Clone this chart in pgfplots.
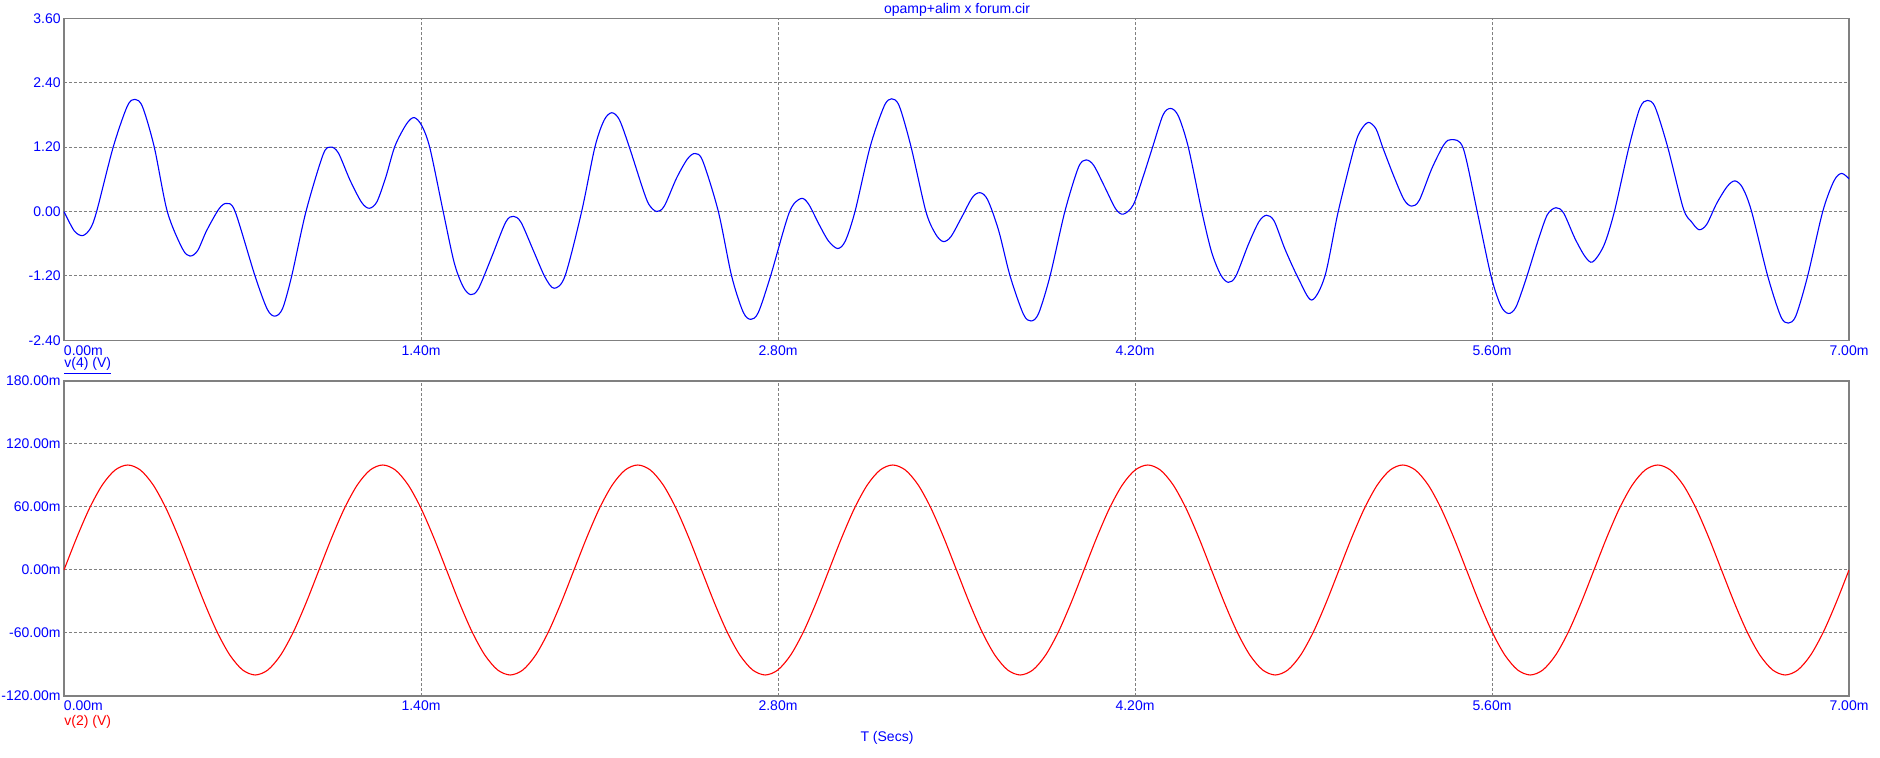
\documentclass[border=0pt]{standalone}
\usepackage{fontspec}
\setmainfont{Liberation Sans}
\usepackage{pgfplots}
\pgfplotsset{compat=1.18}
\definecolor{gridgray}{RGB}{128,128,128}
\pgfplotsset{
  panel/.style={
    scale only axis, width=892.5pt,
    xmin=0, xmax=7,
    xtick={0,1.4,2.8,4.2,5.6,7},
    xticklabels={\rlap{0.00m},1.40m,2.80m,4.20m,5.60m,7.00m},
    grid=major,
    major grid style={draw=gridgray, dash pattern=on 1.5pt off 1pt, line width=0.5pt},
    axis line style={draw=gridgray, line width=0.6pt},
    major tick length=0pt,
    tick label style={font=\fontsize{7}{8}\selectfont, text=blue},
    xticklabel style={anchor=north, inner sep=0pt, yshift=-2.35pt},
    yticklabel style={anchor=east, inner sep=0pt, xshift=-1.5pt},
  }
}
\begin{document}
\begin{tikzpicture}[x=1pt,y=1pt]
\path[use as bounding box] (0,0) rectangle (940,379);
\begin{axis}[panel, at={(32pt,208.85pt)}, anchor=south west, height=161pt,
  ymin=-2.4, ymax=3.6, ytick={-2.4,-1.2,0,1.2,2.4,3.6},
  yticklabels={-2.40,-1.20,0.00,1.20,2.40,3.60}]
\addplot[blue, line width=0.55pt, smooth] coordinates {
(0.000,0.00) (0.040,-0.36) (0.073,-0.45) (0.103,-0.32) (0.128,0.00) (0.193,1.20)
(0.248,1.96) (0.278,2.09) (0.308,1.95) (0.354,1.20) (0.405,0.00)
(0.464,-0.69) (0.494,-0.83) (0.524,-0.73) (0.559,-0.36) (0.608,0.05) (0.638,0.15)
(0.671,0.00) (0.749,-1.20) (0.797,-1.82) (0.827,-1.95) (0.857,-1.81) (0.893,-1.20)
(0.949,0.00) (1.016,1.06) (1.046,1.20) (1.076,1.09) (1.122,0.58) (1.167,0.17)
(1.197,0.06) (1.227,0.18) (1.262,0.64) (1.298,1.22) (1.343,1.63) (1.373,1.75)
(1.403,1.60) (1.435,1.18) (1.487,0.00) (1.530,-0.95) (1.565,-1.40) (1.595,-1.55)
(1.625,-1.44) (1.677,-0.85) (1.732,-0.20) (1.762,-0.09) (1.792,-0.20) (1.840,-0.72)
(1.886,-1.22) (1.922,-1.43) (1.965,-1.20) (2.030,0.00) (2.082,1.20) (2.118,1.70)
(2.148,1.84) (2.178,1.71) (2.217,1.20) (2.270,0.42) (2.294,0.13) (2.324,0.00)
(2.354,0.10) (2.402,0.62) (2.445,0.98) (2.475,1.08) (2.505,0.94) (2.566,0.00)
(2.618,-1.20) (2.663,-1.87) (2.693,-2.01) (2.723,-1.88) (2.771,-1.20) (2.844,-0.02)
(2.889,0.24) (2.919,0.145) (2.962,-0.25) (2.998,-0.55) (3.034,-0.69)
(3.064,-0.55) (3.102,0.00) (3.161,1.20) (3.216,1.96) (3.246,2.10) (3.276,1.96)
(3.322,1.20) (3.380,0.00) (3.418,-0.42) (3.448,-0.56) (3.478,-0.47) (3.520,-0.11)
(3.562,0.26) (3.592,0.35) (3.622,0.22) (3.665,-0.35) (3.710,-1.20) (3.762,-1.91)
(3.792,-2.04) (3.822,-1.90) (3.867,-1.20) (3.925,0.00) (3.978,0.82)
(4.008,0.96) (4.038,0.86) (4.082,0.45) (4.124,0.05) (4.154,-0.05) (4.193,0.12)
(4.230,0.62) (4.269,1.20) (4.310,1.80) (4.340,1.92) (4.370,1.78) (4.409,1.20) (4.462,0.00)
(4.500,-0.75) (4.536,-1.18) (4.566,-1.32) (4.596,-1.20) (4.644,-0.62) (4.686,-0.19) (4.716,-0.07)
(4.746,-0.18) (4.788,-0.70) (4.841,-1.25) (4.893,-1.65) (4.945,-1.20) (4.997,0.00)
(5.060,1.20) (5.085,1.51) (5.115,1.66) (5.145,1.54) (5.171,1.20) (5.213,0.68)
(5.255,0.22) (5.285,0.10) (5.315,0.21) (5.364,0.80) (5.412,1.25) (5.442,1.34)
(5.487,1.18) (5.542,0.00) (5.596,-1.20) (5.634,-1.75) (5.664,-1.90) (5.694,-1.78)
(5.736,-1.22) (5.780,-0.55) (5.817,-0.06) (5.851,0.07) (5.881,-0.03) (5.925,-0.50) (5.965,-0.84)
(5.995,-0.94) (6.039,-0.63) (6.080,0.00) (6.137,1.20) (6.180,1.93)
(6.210,2.07) (6.240,1.94) (6.289,1.20) (6.350,0.06) (6.382,-0.19) (6.412,-0.34)
(6.442,-0.24) (6.481,0.15) (6.523,0.47) (6.553,0.57) (6.583,0.44) (6.618,0.00)
(6.681,-1.20) (6.732,-1.95) (6.762,-2.08) (6.792,-1.94) (6.838,-1.20) (6.897,0.00)
(6.941,0.57) (6.971,0.71) (7.000,0.61)
};
\end{axis}
\begin{axis}[panel, at={(32pt,31pt)}, anchor=south west, height=157.5pt,
  ymin=-120, ymax=180, ytick={-120,-60,0,60,120,180},
  yticklabels={-120.00m,-60.00m,0.00m,60.00m,120.00m,180.00m}]
\addplot[red, line width=0.55pt, smooth] coordinates {
(0.00,0) (0.05,30.90) (0.10,58.78) (0.15,80.90) (0.20,95.11) (0.25,100) (0.30,95.11) (0.35,80.90) (0.40,58.78) (0.45,30.90)
(0.50,0) (0.55,-30.90) (0.60,-58.78) (0.65,-80.90) (0.70,-95.11) (0.75,-100) (0.80,-95.11) (0.85,-80.90) (0.90,-58.78) (0.95,-30.90)
(1.00,0) (1.05,30.90) (1.10,58.78) (1.15,80.90) (1.20,95.11) (1.25,100) (1.30,95.11) (1.35,80.90) (1.40,58.78) (1.45,30.90)
(1.50,0) (1.55,-30.90) (1.60,-58.78) (1.65,-80.90) (1.70,-95.11) (1.75,-100) (1.80,-95.11) (1.85,-80.90) (1.90,-58.78) (1.95,-30.90)
(2.00,0) (2.05,30.90) (2.10,58.78) (2.15,80.90) (2.20,95.11) (2.25,100) (2.30,95.11) (2.35,80.90) (2.40,58.78) (2.45,30.90)
(2.50,0) (2.55,-30.90) (2.60,-58.78) (2.65,-80.90) (2.70,-95.11) (2.75,-100) (2.80,-95.11) (2.85,-80.90) (2.90,-58.78) (2.95,-30.90)
(3.00,0) (3.05,30.90) (3.10,58.78) (3.15,80.90) (3.20,95.11) (3.25,100) (3.30,95.11) (3.35,80.90) (3.40,58.78) (3.45,30.90)
(3.50,0) (3.55,-30.90) (3.60,-58.78) (3.65,-80.90) (3.70,-95.11) (3.75,-100) (3.80,-95.11) (3.85,-80.90) (3.90,-58.78) (3.95,-30.90)
(4.00,0) (4.05,30.90) (4.10,58.78) (4.15,80.90) (4.20,95.11) (4.25,100) (4.30,95.11) (4.35,80.90) (4.40,58.78) (4.45,30.90)
(4.50,0) (4.55,-30.90) (4.60,-58.78) (4.65,-80.90) (4.70,-95.11) (4.75,-100) (4.80,-95.11) (4.85,-80.90) (4.90,-58.78) (4.95,-30.90)
(5.00,0) (5.05,30.90) (5.10,58.78) (5.15,80.90) (5.20,95.11) (5.25,100) (5.30,95.11) (5.35,80.90) (5.40,58.78) (5.45,30.90)
(5.50,0) (5.55,-30.90) (5.60,-58.78) (5.65,-80.90) (5.70,-95.11) (5.75,-100) (5.80,-95.11) (5.85,-80.90) (5.90,-58.78) (5.95,-30.90)
(6.00,0) (6.05,30.90) (6.10,58.78) (6.15,80.90) (6.20,95.11) (6.25,100) (6.30,95.11) (6.35,80.90) (6.40,58.78) (6.45,30.90)
(6.50,0) (6.55,-30.90) (6.60,-58.78) (6.65,-80.90) (6.70,-95.11) (6.75,-100) (6.80,-95.11) (6.85,-80.90) (6.90,-58.78) (6.95,-30.90)
(7.00,0)
};
\end{axis}
\begin{scope}[every node/.style={inner sep=0pt, font=\fontsize{7}{8}\selectfont}]
\node[anchor=base, text=blue] at (478.5,372) {opamp+alim x forum.cir};
\node[anchor=base west, text=blue] at (32,195) {\underline{v(4) (V)}};
\node[anchor=base west, text=red] at (32,16) {v(2) (V)};
\node[anchor=base, text=blue] at (443.5,8.2) {T (Secs)};
\end{scope}
\end{tikzpicture}
\end{document}
